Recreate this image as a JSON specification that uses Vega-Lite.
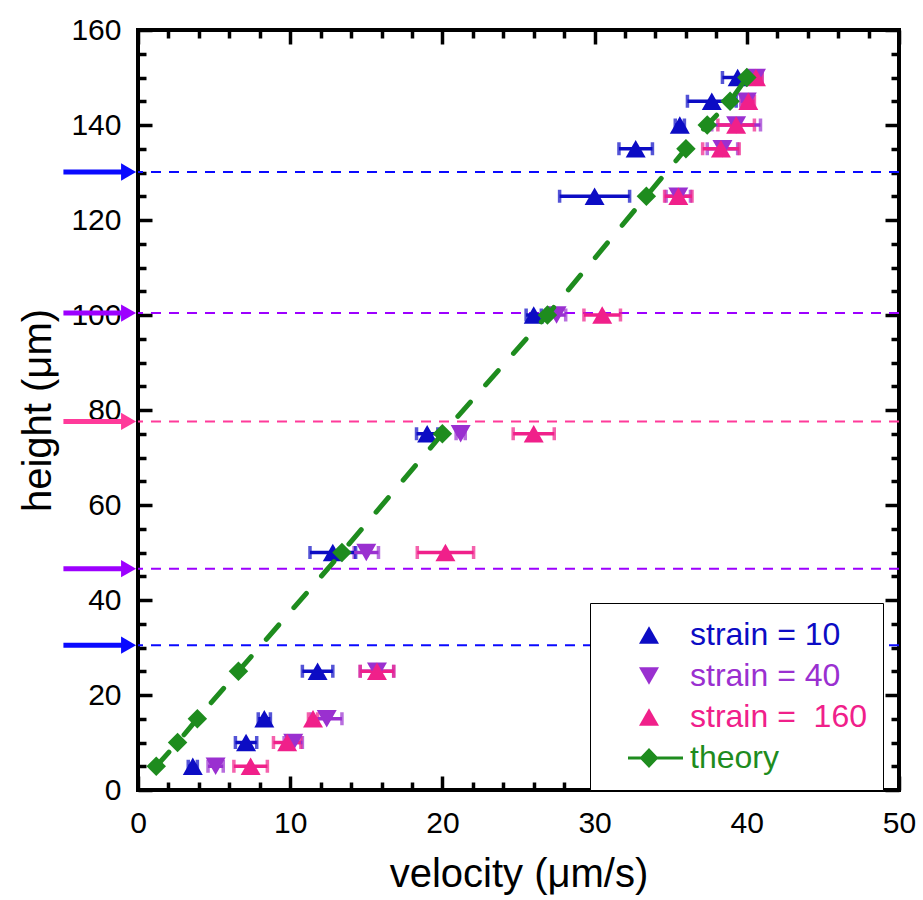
{
  "$schema": "https://vega.github.io/schema/vega-lite/v6.json",
  "width": 761,
  "height": 760,
  "autosize": {"type": "none"},
  "padding": {"left": 138, "top": 30, "right": 24, "bottom": 110},
  "config": {
    "view": {"stroke": "black", "strokeWidth": 4},
    "font": "Liberation Sans",
    "axis": {
      "domain": false,
      "grid": false,
      "tickColor": "black",
      "tickWidth": 3.5,
      "labelFont": "Liberation Sans",
      "labelFontSize": 30,
      "labelColor": "black",
      "labelFlush": false,
      "labelOverlap": false,
      "titleFont": "Liberation Sans",
      "titleFontSize": 40,
      "titleFontWeight": "normal",
      "titleColor": "black"
    }
  },
  "datasets": {
    "measured": [
      {"series": "strain = 10", "h": 5, "v": 3.6, "err": 0.3},
      {"series": "strain = 10", "h": 10, "v": 7.1, "err": 0.7},
      {"series": "strain = 10", "h": 15, "v": 8.3, "err": 0.4},
      {"series": "strain = 10", "h": 25, "v": 11.8, "err": 1.0},
      {"series": "strain = 10", "h": 50, "v": 12.8, "err": 1.5},
      {"series": "strain = 10", "h": 75, "v": 19.0, "err": 0.7},
      {"series": "strain = 10", "h": 100, "v": 26.0, "err": 0.5},
      {"series": "strain = 10", "h": 125, "v": 30.0, "err": 2.3},
      {"series": "strain = 10", "h": 135, "v": 32.7, "err": 1.1},
      {"series": "strain = 10", "h": 140, "v": 35.6, "err": 0.3},
      {"series": "strain = 10", "h": 145, "v": 37.7, "err": 1.6},
      {"series": "strain = 10", "h": 150, "v": 39.4, "err": 1.0},
      {"series": "strain = 40", "h": 5, "v": 5.1, "err": 0.5},
      {"series": "strain = 40", "h": 10, "v": 10.2, "err": 0.6},
      {"series": "strain = 40", "h": 15, "v": 12.4, "err": 1.0},
      {"series": "strain = 40", "h": 25, "v": 15.7, "err": 1.1},
      {"series": "strain = 40", "h": 50, "v": 15.0, "err": 0.8},
      {"series": "strain = 40", "h": 75, "v": 21.2, "err": 0.3},
      {"series": "strain = 40", "h": 100, "v": 27.5, "err": 0.6},
      {"series": "strain = 40", "h": 125, "v": 35.5, "err": 0.8},
      {"series": "strain = 40", "h": 135, "v": 38.4, "err": 1.0},
      {"series": "strain = 40", "h": 140, "v": 39.3, "err": 1.6},
      {"series": "strain = 40", "h": 145, "v": 40.0, "err": 0.4},
      {"series": "strain = 40", "h": 150, "v": 40.6, "err": 0.4},
      {"series": "strain =\u00a0 160", "h": 5, "v": 7.4, "err": 1.1},
      {"series": "strain =\u00a0 160", "h": 10, "v": 9.8, "err": 0.9},
      {"series": "strain =\u00a0 160", "h": 15, "v": 11.5, "err": 0.3},
      {"series": "strain =\u00a0 160", "h": 25, "v": 15.7, "err": 1.1},
      {"series": "strain =\u00a0 160", "h": 50, "v": 20.2, "err": 1.85},
      {"series": "strain =\u00a0 160", "h": 75, "v": 26.0, "err": 1.35},
      {"series": "strain =\u00a0 160", "h": 100, "v": 30.5, "err": 1.2},
      {"series": "strain =\u00a0 160", "h": 125, "v": 35.5, "err": 0.9},
      {"series": "strain =\u00a0 160", "h": 135, "v": 38.3, "err": 1.2},
      {"series": "strain =\u00a0 160", "h": 140, "v": 39.3, "err": 1.2},
      {"series": "strain =\u00a0 160", "h": 145, "v": 40.1, "err": 0.4},
      {"series": "strain =\u00a0 160", "h": 150, "v": 40.6, "err": 0.4}
    ],
    "theory": [
      {"series": "theory", "h": 5, "v": 1.2},
      {"series": "theory", "h": 10, "v": 2.6},
      {"series": "theory", "h": 15, "v": 3.9},
      {"series": "theory", "h": 25, "v": 6.6},
      {"series": "theory", "h": 50, "v": 13.4},
      {"series": "theory", "h": 75, "v": 20.0},
      {"series": "theory", "h": 100, "v": 26.9},
      {"series": "theory", "h": 125, "v": 33.4},
      {"series": "theory", "h": 135, "v": 36.0},
      {"series": "theory", "h": 140, "v": 37.4},
      {"series": "theory", "h": 145, "v": 38.9},
      {"series": "theory", "h": 150, "v": 40.0}
    ],
    "levels": [
      {"strain": "10", "level": 130.1},
      {"strain": "40", "level": 100.4},
      {"strain": "160", "level": 77.6},
      {"strain": "40", "level": 46.6},
      {"strain": "10", "level": 30.5}
    ]
  },
  "layer": [
    {
      "data": {"name": "levels"},
      "mark": {"type": "rule", "strokeWidth": 2, "strokeDash": [10, 8]},
      "encoding": {
        "y": {"field": "level", "type": "quantitative", "scale": {"domain": [0, 160], "nice": false}, "axis": null},
        "stroke": {"field": "strain", "type": "nominal", "scale": {"domain": ["10", "40", "160"], "range": ["#0a0aff", "#9d00ff", "#ff3a9a"]}, "legend": null}
      }
    },
    {
      "data": {"name": "levels"},
      "mark": {"type": "rule", "strokeWidth": 5},
      "encoding": {
        "x": {"datum": -4.9, "type": "quantitative", "scale": {"domain": [0, 50], "nice": false}, "axis": null},
        "x2": {"datum": -1.0},
        "y": {"field": "level", "type": "quantitative", "axis": null},
        "stroke": {"field": "strain", "type": "nominal", "legend": null}
      }
    },
    {
      "data": {"name": "levels"},
      "mark": {"type": "point", "shape": "triangle-right", "filled": true, "size": 300, "opacity": 1},
      "encoding": {
        "x": {"datum": -0.62, "type": "quantitative", "axis": null},
        "y": {"field": "level", "type": "quantitative", "axis": null},
        "fill": {"field": "strain", "type": "nominal", "scale": {"domain": ["10", "40", "160"], "range": ["#0a0aff", "#9d00ff", "#ff3a9a"]}, "legend": null}
      }
    },
    {
      "data": {"name": "measured"},
      "mark": {"type": "errorbar", "thickness": 3.5, "ticks": {"size": 13}},
      "encoding": {
        "x": {"field": "v", "type": "quantitative", "axis": null},
        "xError": {"field": "err"},
        "y": {"field": "h", "type": "quantitative", "axis": null},
        "color": {
          "field": "series", "type": "nominal",
          "scale": {"domain": ["strain = 10", "strain = 40", "strain =\u00a0 160"], "range": ["#0c0cc4", "#9a30d0", "#f0208a"]},
          "legend": null
        }
      }
    },
    {
      "data": {"name": "measured"},
      "mark": {"type": "point", "filled": true, "size": 400, "opacity": 1},
      "encoding": {
        "x": {
          "field": "v", "type": "quantitative",
          "axis": {
            "orient": "bottom",
            "title": "velocity (\u03bcm/s)",
            "values": [0, 2, 4, 6, 8, 10, 12, 14, 16, 18, 20, 22, 24, 26, 28, 30, 32, 34, 36, 38, 40, 42, 44, 46, 48, 50],
            "labelExpr": "datum.value % 10 === 0 ? datum.label : ''",
            "tickSize": {"condition": {"test": "datum.value % 10 === 0", "value": -14}, "value": -8},
            "labelPadding": 32,
            "titlePadding": 10
          }
        },
        "y": {
          "field": "h", "type": "quantitative",
          "axis": {
            "orient": "left",
            "title": "height (\u03bcm)",
            "values": [0, 5, 10, 15, 20, 25, 30, 35, 40, 45, 50, 55, 60, 65, 70, 75, 80, 85, 90, 95, 100, 105, 110, 115, 120, 125, 130, 135, 140, 145, 150, 155, 160],
            "labelExpr": "datum.value % 20 === 0 ? datum.label : ''",
            "tickSize": {"condition": {"test": "datum.value % 20 === 0", "value": -14}, "value": -8},
            "labelPadding": 31,
            "titlePadding": 12
          }
        },
        "color": {
          "field": "series", "type": "nominal",
          "scale": {
            "domain": ["strain = 10", "strain = 40", "strain =\u00a0 160", "theory"],
            "range": ["#0c0cc4", "#9a30d0", "#f0208a", "#1e8c1e"]
          },
          "legend": {
            "title": null,
            "orient": "none",
            "legendX": 452,
            "legendY": 573,
            "padding": 16,
            "strokeColor": "black",
            "fillColor": "white",
            "symbolSize": 400,
            "symbolOffset": 27,
            "symbolOpacity": 1,
            "symbolStrokeWidth": 0,
            "symbolType": {"expr": "['triangle-up', 'triangle-down', 'triangle-up', 'M-2.1,-0.15H3.4V0.15H-2.1Z M0,-1L0.95,0L0,1L-0.95,0Z'][indexof(['strain = 10', 'strain = 40', 'strain =\u00a0 160', 'theory'], datum.value)]"},
            "labelOffset": 25,
            "labelFont": "Liberation Sans",
            "labelFontSize": 32,
            "labelLimit": 400,
            "rowPadding": 9,
            "labelColor": {"expr": "['#0c0cc4', '#9a30d0', '#f0208a', '#1e8c1e'][indexof(['strain = 10', 'strain = 40', 'strain =\u00a0 160', 'theory'], datum.value)]"}
          }
        },
        "shape": {
          "field": "series", "type": "nominal",
          "scale": {
            "domain": ["strain = 10", "strain = 40", "strain =\u00a0 160", "theory"],
            "range": ["triangle-up", "triangle-down", "triangle-up", "diamond"]
          },
          "legend": null
        }
      }
    },
    {
      "data": {"name": "theory"},
      "mark": {"type": "line", "strokeWidth": 5, "strokeDash": [19, 23], "strokeCap": "round"},
      "encoding": {
        "x": {"field": "v", "type": "quantitative", "axis": null},
        "y": {"field": "h", "type": "quantitative", "axis": null},
        "color": {"field": "series", "type": "nominal", "scale": {"domain": ["theory"], "range": ["#1e8c1e"]}, "legend": null}
      }
    },
    {
      "data": {"name": "theory"},
      "mark": {"type": "point", "shape": "diamond", "filled": true, "size": 380, "opacity": 1},
      "encoding": {
        "x": {
          "field": "v", "type": "quantitative",
          "axis": {
            "orient": "top",
            "title": null,
            "labels": false,
            "values": [0, 2, 4, 6, 8, 10, 12, 14, 16, 18, 20, 22, 24, 26, 28, 30, 32, 34, 36, 38, 40, 42, 44, 46, 48, 50],
            "tickSize": {"condition": {"test": "datum.value % 10 === 0", "value": -14}, "value": -8}
          }
        },
        "y": {
          "field": "h", "type": "quantitative",
          "axis": {
            "orient": "right",
            "title": null,
            "labels": false,
            "values": [0, 5, 10, 15, 20, 25, 30, 35, 40, 45, 50, 55, 60, 65, 70, 75, 80, 85, 90, 95, 100, 105, 110, 115, 120, 125, 130, 135, 140, 145, 150, 155, 160],
            "tickSize": {"condition": {"test": "datum.value % 20 === 0", "value": -14}, "value": -8}
          }
        },
        "color": {"field": "series", "type": "nominal", "scale": {"domain": ["theory"], "range": ["#1e8c1e"]}, "legend": null}
      }
    }
  ],
  "resolve": {
    "axis": {"x": "independent", "y": "independent"},
    "scale": {"color": "independent"}
  }
}
